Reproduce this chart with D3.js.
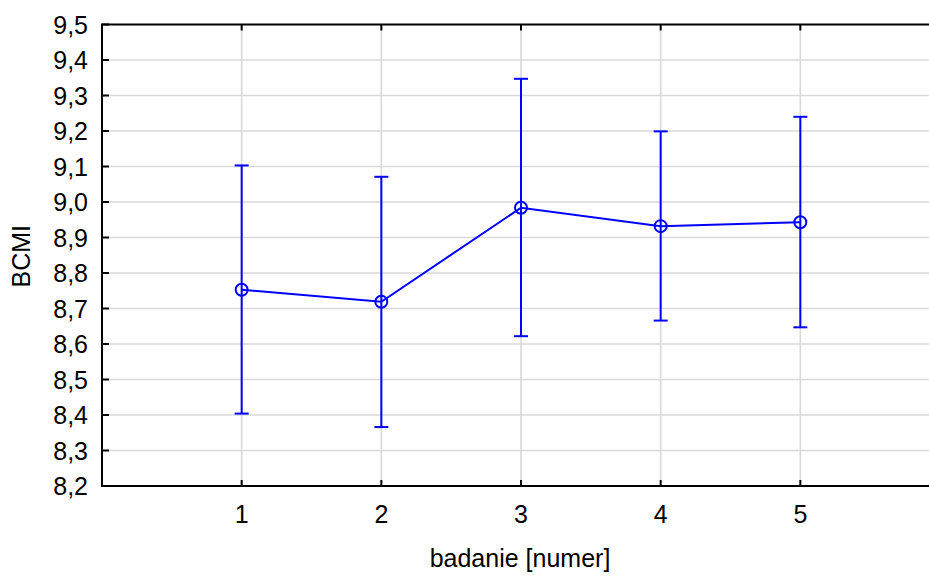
<!DOCTYPE html>
<html>
<head>
<meta charset="utf-8">
<script src="https://cdn.jsdelivr.net/npm/d3@7"></script>
<style>
  body { margin: 0; background: #fff; }
  svg { display: block; font-family: "Liberation Sans", Arial, sans-serif; }
</style>
</head>
<body>
<div id="canvas"></div>
<script>
"use strict";

// Study number, mean BCMI and the interval ends
let studies = [1, 2, 3, 4, 5];
let means = [8.753, 8.719, 8.984, 8.932, 8.943];
let upper = [9.103, 9.071, 9.347, 9.199, 9.240];
let lower = [8.404, 8.366, 8.622, 8.666, 8.647];
let yTicks = [8.2, 8.3, 8.4, 8.5, 8.6, 8.7, 8.8, 8.9, 9.0, 9.1, 9.2, 9.3, 9.4, 9.5];

let svgWidth = 929;
let svgHeight = 578;
let margin = { left: 102, right: -11, top: 24.5, bottom: 92 };

let svg = d3.select("#canvas")
    .append("svg")
    .attr("width", svgWidth)
    .attr("height", svgHeight);

let plotRight = svgWidth - margin.right;
let plotBottom = svgHeight - margin.bottom;

let xScale = d3.scaleLinear()
    .domain([0, 6])
    .range([margin.left, plotRight]);

let yScale = d3.scaleLinear()
    .domain([8.2, 9.5])
    .range([plotBottom, margin.top]);

// Polish decimal comma
let pl = d3.formatLocale({ decimal: ",", thousands: " ", grouping: [3], currency: ["", ""] });
let fmt = pl.format(".1f");

let grid = "#d9d9d9";

// Grid lines
svg.selectAll("line.hgrid")
    .data(yTicks.slice(1, -1))
    .join("line")
    .attr("class", "hgrid")
    .attr("x1", margin.left)
    .attr("x2", plotRight)
    .attr("y1", d => yScale(d))
    .attr("y2", d => yScale(d))
    .attr("stroke", grid)
    .attr("stroke-width", 1.6);

svg.selectAll("line.vgrid")
    .data(studies)
    .join("line")
    .attr("class", "vgrid")
    .attr("x1", d => xScale(d))
    .attr("x2", d => xScale(d))
    .attr("y1", margin.top)
    .attr("y2", plotBottom)
    .attr("stroke", grid)
    .attr("stroke-width", 1.6);

// Frame: left, top, bottom
svg.append("path")
    .attr("d", `M${plotRight},${margin.top}H${margin.left}V${plotBottom}H${plotRight}`)
    .attr("fill", "none")
    .attr("stroke", "black")
    .attr("stroke-width", 2);

// Inner ticks
svg.selectAll("line.ytick")
    .data(yTicks)
    .join("line")
    .attr("class", "ytick")
    .attr("x1", margin.left)
    .attr("x2", margin.left + 7)
    .attr("y1", d => yScale(d))
    .attr("y2", d => yScale(d))
    .attr("stroke", "black")
    .attr("stroke-width", 2);

studies.forEach(s => {
    svg.append("line")
        .attr("x1", xScale(s)).attr("x2", xScale(s))
        .attr("y1", margin.top).attr("y2", margin.top + 6)
        .attr("stroke", "black").attr("stroke-width", 2);
    svg.append("line")
        .attr("x1", xScale(s)).attr("x2", xScale(s))
        .attr("y1", plotBottom).attr("y2", plotBottom - 6)
        .attr("stroke", "black").attr("stroke-width", 2);
});

// Tick labels
svg.selectAll("text.ylab")
    .data(yTicks)
    .join("text")
    .attr("class", "ylab")
    .attr("x", 88)
    .attr("y", d => yScale(d) + 9)
    .attr("text-anchor", "end")
    .style("font-size", "25px")
    .text(d => fmt(d));

svg.selectAll("text.xlab")
    .data(studies)
    .join("text")
    .attr("class", "xlab")
    .attr("x", d => xScale(d))
    .attr("y", 523)
    .attr("text-anchor", "middle")
    .style("font-size", "25px")
    .text(d => d);

// Axis titles
svg.append("text")
    .attr("x", 520)
    .attr("y", 567)
    .attr("text-anchor", "middle")
    .style("font-size", "25px")
    .text("badanie [numer]");

svg.append("text")
    .attr("transform", `translate(30,${yScale(8.85) + 1}) rotate(-90)`)
    .attr("text-anchor", "middle")
    .style("font-size", "25px")
    .text("BCMI");

let blue = "#0000ff";

// Error bars
studies.forEach((s, i) => {
    let x = xScale(s);
    svg.append("line")
        .attr("x1", x).attr("x2", x)
        .attr("y1", yScale(upper[i])).attr("y2", yScale(lower[i]))
        .attr("stroke", blue).attr("stroke-width", 2);
    [upper[i], lower[i]].forEach(v => {
        svg.append("line")
            .attr("x1", x - 7).attr("x2", x + 7)
            .attr("y1", yScale(v)).attr("y2", yScale(v))
            .attr("stroke", blue).attr("stroke-width", 2);
    });
});

// Mean line and markers
let line = d3.line()
    .x((d, i) => xScale(studies[i]))
    .y(d => yScale(d));

svg.append("path")
    .datum(means)
    .attr("d", line)
    .attr("fill", "none")
    .attr("stroke", blue)
    .attr("stroke-width", 2);

svg.selectAll("circle.mean")
    .data(means)
    .join("circle")
    .attr("class", "mean")
    .attr("cx", (d, i) => xScale(studies[i]))
    .attr("cy", d => yScale(d))
    .attr("r", 6)
    .attr("fill", "none")
    .attr("stroke", blue)
    .attr("stroke-width", 2);
</script>
</body>
</html>
